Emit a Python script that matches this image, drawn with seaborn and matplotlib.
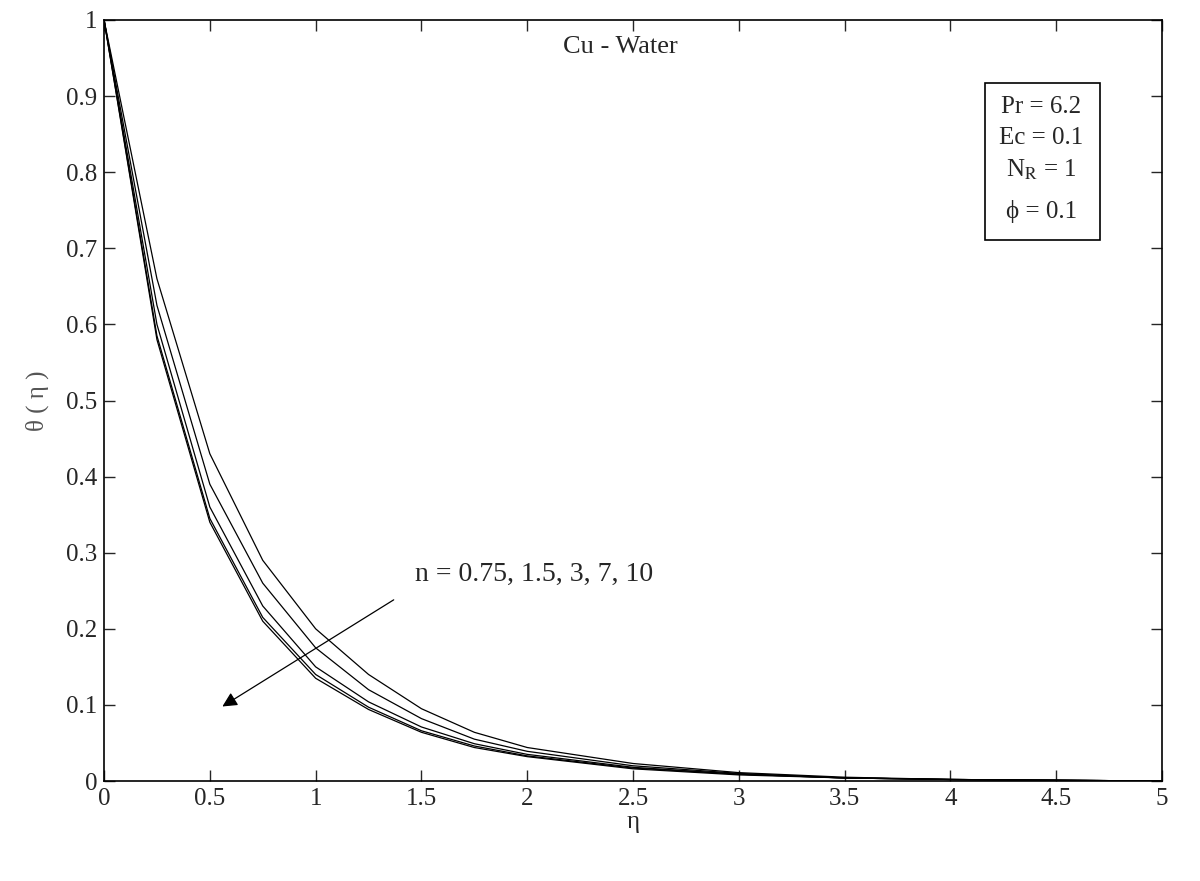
import numpy as np
import pandas as pd
import seaborn as sns
import matplotlib.pyplot as plt
from matplotlib.patches import Rectangle

# ============================
#  data
# ============================

eta = [0, 0.25, 0.5, 0.75, 1.0, 1.25, 1.5, 1.75, 2.0, 2.5, 3.0, 3.5, 4.0, 4.5, 5.0]

theta_n075 = [1, 0.660, 0.430, 0.290, 0.200, 0.140, 0.095, 0.064, 0.044, 0.023, 0.011, 0.005, 0.002, 0.001, 0.0]
theta_n15 = [1, 0.625, 0.390, 0.260, 0.175, 0.120, 0.082, 0.055, 0.039, 0.020, 0.010, 0.004, 0.002, 0.001, 0.0]
theta_n3 = [1, 0.600, 0.360, 0.230, 0.150, 0.104, 0.071, 0.049, 0.035, 0.018, 0.009, 0.004, 0.002, 0.001, 0.0]
theta_n7 = [1, 0.585, 0.345, 0.215, 0.140, 0.097, 0.066, 0.046, 0.033, 0.017, 0.009, 0.004, 0.002, 0.001, 0.0]
theta_n10 = [1, 0.580, 0.340, 0.210, 0.135, 0.094, 0.064, 0.044, 0.032, 0.016, 0.008, 0.004, 0.002, 0.001, 0.0]

n_values = ['0.75', '1.5', '3', '7', '10']
curves = [theta_n075, theta_n15, theta_n3, theta_n7, theta_n10]

xticks = [0, 0.5, 1, 1.5, 2, 2.5, 3, 3.5, 4, 4.5, 5]
xticklabels = ['0', '0.5', '1', '1.5', '2', '2.5', '3', '3.5', '4', '4.5', '5']
yticks = [0, 0.1, 0.2, 0.3, 0.4, 0.5, 0.6, 0.7, 0.8, 0.9, 1]
yticklabels = ['0', '0.1', '0.2', '0.3', '0.4', '0.5', '0.6', '0.7', '0.8', '0.9', '1']

rows = []
for n, th in zip(n_values, curves):
    for e, t in zip(eta, th):
        rows.append({'eta': e, 'theta': t, 'n': n})
df = pd.DataFrame(rows)

# ============================
#  figure
# ============================

sns.set_style('white')
plt.rcParams['font.family'] = ['Liberation Serif', 'DejaVu Serif']
plt.rcParams['mathtext.fontset'] = 'stix'

fig = plt.figure(figsize=(12, 8.81), dpi=100)
ax = fig.add_axes([0.0867, 0.1135, 0.8817, 0.8638])

sns.lineplot(data=df, x='eta', y='theta', hue='n', palette=['black'] * 5,
             linewidth=0.9, legend=False, ax=ax, sort=False)

ax.set_xlim(0, 5)
ax.set_ylim(0, 1)
ax.set_xticks(xticks)
ax.set_xticklabels(xticklabels)
ax.set_yticks(yticks)
ax.set_yticklabels(yticklabels)
ax.tick_params(direction='in', length=8, width=1, labelsize=18, top=True, right=True,
               bottom=True, left=True, pad=5)
for sp in ax.spines.values():
    sp.set_color('black')
    sp.set_linewidth(1.2)

ax.set_xlabel('η', fontsize=18, labelpad=1)
ax.set_ylabel('θ ( η )', fontsize=18, color='#555555', labelpad=12)

ax.text(2.44, 0.965, 'Cu - Water', fontsize=19, ha='center', va='center')

# parameter box
ax.add_patch(Rectangle((0.833, 0.711), 0.108, 0.206, transform=ax.transAxes,
                       fill=False, edgecolor='black', linewidth=1.2))
ax.text(4.43, 0.886, 'Pr = 6.2', fontsize=18, ha='center', va='center')
ax.text(4.43, 0.845, 'Ec = 0.1', fontsize=18, ha='center', va='center')
ax.text(4.43, 0.803, r'N$_{\mathrm{R}}$ = 1', fontsize=18, ha='center', va='center')
ax.text(4.43, 0.749, 'ϕ = 0.1', fontsize=18, ha='center', va='center')

# arrow across the curves
ax.annotate('', xy=(0.548, 0.096), xytext=(1.38, 0.24),
            arrowprops=dict(arrowstyle='-|>', color='black', lw=0.9,
                            mutation_scale=22))
ax.text(1.47, 0.272, 'n = 0.75, 1.5, 3, 7, 10', fontsize=20, ha='left', va='center')

fig.savefig('out.png', dpi=100)
